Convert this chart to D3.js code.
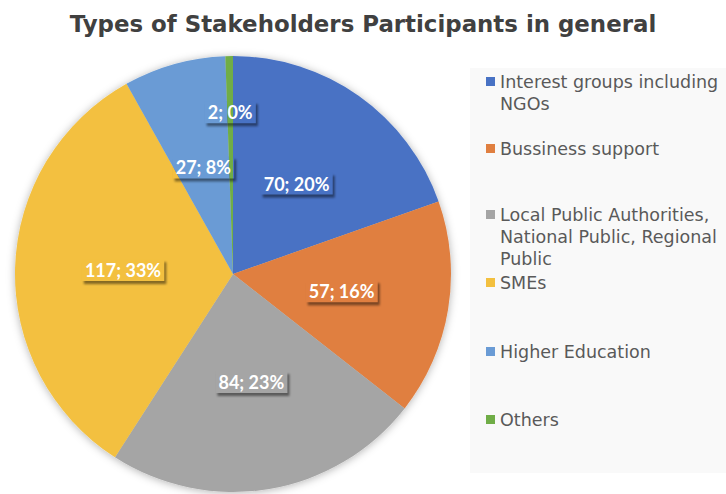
<!DOCTYPE html>
<html>
  <head>
    <meta charset="UTF-8">
    <title>stakeholders pie</title>
    <style>
      body { margin: 0; background: #fff; }
      svg text.title { font-family: "DejaVu Sans", Verdana, sans-serif; font-weight: bold; fill: #404040; }
      svg .legend text { font-family: "DejaVu Sans", Verdana, sans-serif; fill: #595959; font-size: 17.5px; }
      svg .labels text { font-family: Lato, "Open Sans", sans-serif; font-weight: bold; fill: #fff; font-size: 18px; }
    </style>
    <script src="https://cdnjs.cloudflare.com/ajax/libs/d3/7.8.5/d3.min.js"></script>
  </head>
  <body>
    <div class="graph1"></div>
    <script>
      var width = 726, height = 494;

      // data
      var categories = ["Interest groups including NGOs", "Bussiness support",
        "Local Public Authorities, National Public, Regional Public", "SMEs",
        "Higher Education", "Others"];
      var legendLines = [["Interest groups including", "NGOs"], ["Bussiness support"],
        ["Local Public Authorities,", "National Public, Regional", "Public"], ["SMEs"],
        ["Higher Education"], ["Others"]];
      var values = [70, 57, 84, 117, 27, 2];
      var percents = ["20%", "16%", "23%", "33%", "8%", "0%"];
      var colors = ["#4872c4", "#e07f40", "#a5a5a5", "#f3c03f", "#6a9bd5", "#70ad47"];

      var cx = 233, cy = 274, radius = 218;

      var svg = d3.select(".graph1").append("svg")
        .attr("width", width)
        .attr("height", height);

      var defs = svg.append("defs");
      defs.append("filter").attr("id", "pieShadow")
        .attr("x", "-10%").attr("y", "-10%").attr("width", "120%").attr("height", "120%")
        .append("feDropShadow")
        .attr("dx", 0).attr("dy", 1).attr("stdDeviation", 4)
        .attr("flood-color", "#000").attr("flood-opacity", 0.3);
      defs.append("filter").attr("id", "blur1")
        .attr("x", "-20%").attr("y", "-30%").attr("width", "140%").attr("height", "170%")
        .append("feGaussianBlur")
        .attr("stdDeviation", 1);

      // legend panel
      svg.append("rect")
        .attr("x", 470).attr("y", 68)
        .attr("width", 256).attr("height", 405)
        .attr("fill", "#f9f9f9");

      // title
      var title = svg.append("text")
        .attr("class", "title")
        .attr("x", 363).attr("y", 32)
        .attr("text-anchor", "middle")
        .style("font-size", "20px")
        .text("Types of Stakeholders Participants in general");
      var tw = title.node().getComputedTextLength();
      title.style("font-size", (20 * 587 / tw) + "px");

      var total = d3.sum(values);
      var pie = d3.pie().sort(null).value(function(d) { return d; });
      var arcs = pie(values);
      var arc = d3.arc().innerRadius(0).outerRadius(radius);

      var g = svg.append("g")
        .attr("transform", "translate(" + cx + "," + cy + ")");

      g.append("g")
        .attr("filter", "url(#pieShadow)")
        .selectAll("path")
        .data(arcs)
        .enter().append("path")
        .attr("d", arc)
        .attr("fill", function(d, i) { return colors[i]; });

      // data labels: tiny slices get pushed outwards like Excel does
      function labelPos(d) {
        var r = d.value / total < 0.02 ? radius * 0.74 : radius * 0.505;
        var a = (d.startAngle + d.endAngle) / 2;
        return [Math.sin(a) * r, -Math.cos(a) * r];
      }

      var labels = g.append("g").attr("class", "labels")
        .selectAll("g")
        .data(arcs)
        .enter().append("g");

      labels.each(function(d, i) {
        var node = d3.select(this);
        var p = labelPos(d);
        var shadow = node.append("rect");
        var clip = node.append("clipPath").attr("id", "lblclip" + i);
        var crect = clip.append("rect");
        var through = node.append("g").attr("clip-path", "url(#lblclip" + i + ")");
        var t = node.append("text")
          .attr("x", p[0]).attr("y", p[1])
          .attr("text-anchor", "middle")
          .attr("dy", "0.36em")
          .text(values[i] + "; " + percents[i]);
        var bb = t.node().getBBox();
        var bx = bb.x - 3, by = bb.y, bw = bb.width + 6, bh = bb.height;
        shadow.attr("x", bx + 2).attr("y", by + 3)
          .attr("width", bw).attr("height", bh)
          .attr("fill", "#000").attr("opacity", 0.45)
          .attr("filter", "url(#blur1)");
        crect.attr("x", bx).attr("y", by).attr("width", bw).attr("height", bh);
        // box is see-through: redraw the slices inside it
        through.selectAll("path")
          .data(arcs)
          .enter().append("path")
          .attr("d", arc)
          .attr("fill", function(e, k) { return colors[k]; });
      });

      // legend
      var rowY = [82, 149, 215, 283, 352, 420];
      var legend = svg.append("g").attr("class", "legend")
        .selectAll("g")
        .data(categories)
        .enter().append("g")
        .attr("transform", function(d, i) { return "translate(486," + rowY[i] + ")"; });

      legend.append("rect")
        .attr("x", 0).attr("y", -5)
        .attr("width", 9).attr("height", 9)
        .attr("fill", function(d, i) { return colors[i]; });

      legend.each(function(d, i) {
        var t = d3.select(this).append("text")
          .attr("x", 14).attr("y", 0);
        legendLines[i].forEach(function(line, j) {
          t.append("tspan")
            .attr("x", 14)
            .attr("y", j * 22)
            .attr("dy", "0.36em")
            .text(line);
        });
      });
    </script>
  </body>
</html>
